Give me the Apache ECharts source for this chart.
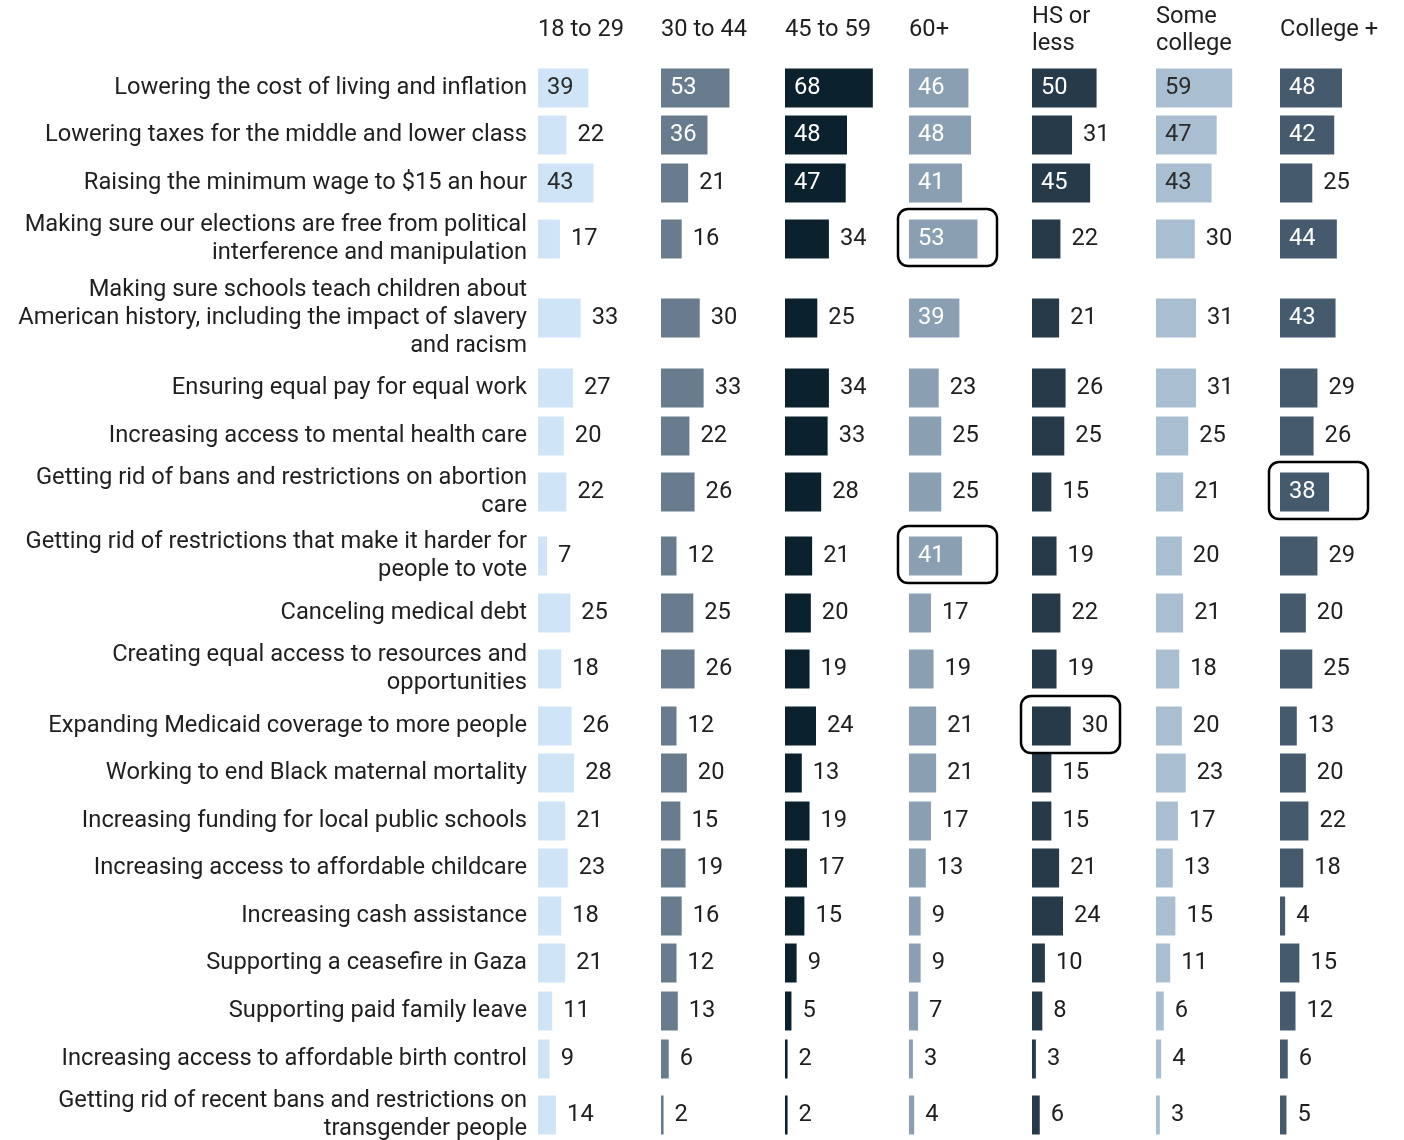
<!DOCTYPE html>
<html><head><meta charset="utf-8">
<script src="https://cdn.jsdelivr.net/npm/echarts@6/dist/echarts.min.js"></script>
<style>html,body{margin:0;padding:0;background:#fff}#c{width:1404px;height:1140px}</style>
</head><body><div id="c"></div>
<script>
const categories = [
  "Lowering the cost of living and inflation",
  "Lowering taxes for the middle and lower class",
  "Raising the minimum wage to $15 an hour",
  "Making sure our elections are free from political\ninterference and manipulation",
  "Making sure schools teach children about\nAmerican history, including the impact of slavery\nand racism",
  "Ensuring equal pay for equal work",
  "Increasing access to mental health care",
  "Getting rid of bans and restrictions on abortion\ncare",
  "Getting rid of restrictions that make it harder for\npeople to vote",
  "Canceling medical debt",
  "Creating equal access to resources and\nopportunities",
  "Expanding Medicaid coverage to more people",
  "Working to end Black maternal mortality",
  "Increasing funding for local public schools",
  "Increasing access to affordable childcare",
  "Increasing cash assistance",
  "Supporting a ceasefire in Gaza",
  "Supporting paid family leave",
  "Increasing access to affordable birth control",
  "Getting rid of recent bans and restrictions on\ntransgender people"
];
const groups = ["18 to 29", "30 to 44", "45 to 59", "60+", "HS or\nless", "Some\ncollege", "College +"];
const age18to29   = [39,22,43,17,33,27,20,22,7,25,18,26,28,21,23,18,21,11,9,14];
const age30to44   = [53,36,21,16,30,33,22,26,12,25,26,12,20,15,19,16,12,13,6,2];
const age45to59   = [68,48,47,34,25,34,33,28,21,20,19,24,13,19,17,15,9,5,2,2];
const age60plus   = [46,48,41,53,39,23,25,25,41,17,19,21,21,17,13,9,9,7,3,4];
const hsOrLess    = [50,31,45,22,21,26,25,15,19,22,19,30,15,15,21,24,10,8,3,6];
const someCollege = [59,47,43,30,31,31,25,21,20,21,18,20,23,17,13,15,11,6,4,3];
const collegePlus = [48,42,25,44,43,29,26,38,29,20,25,13,20,22,18,4,15,12,6,5];
const highlighted = [[3,3],[8,3],[11,4],[7,6]]; // [row, column]

const values = [age18to29, age30to44, age45to59, age60plus, hsOrLess, someCollege, collegePlus];
const colors = ['#cfe5f7','#687c8d','#0b212e','#8a9fb2','#273a4a','#a9bfd1','#455a6c'];
const lightCol = [true,false,false,false,false,true,false];

// layout
const colLeft = [538,661,785,909,1032,1156,1280];
const rowY = [88,135,183,239,318,388,436,492,556,613,669,726,773,821,868,916,963,1011,1059,1115];
const barH = 39, gridW = 124, axisMax = 96;
const FONT = 'Roboto';
const FS = 23.7;
const TXT = '#1f1f1f';

const grids=[], xAxes=[], yAxes=[], series=[], graphics=[];
let idx = 0;
for (let r=0;r<categories.length;r++){
  for (let c=0;c<values.length;c++){
    grids.push({left:colLeft[c], top:rowY[r]-barH/2, width:gridW, height:barH, containLabel:false, outerBoundsMode:'none'});
    xAxes.push({gridIndex:idx, type:'value', min:0, max:axisMax, show:false});
    yAxes.push({gridIndex:idx, type:'category', data:[categories[r]], show:c===0,
      axisLine:{show:false}, axisTick:{show:false},
      axisLabel:{show:c===0, fontFamily:FONT, fontSize:FS, color:TXT, margin:11, lineHeight:28, align:'right'}});
    const v = values[c][r];
    const inside = v >= 35;
    series.push({type:'bar', xAxisIndex:idx, yAxisIndex:idx, data:[v], barWidth:barH,
      itemStyle:{color:colors[c]}, silent:true, animation:false,
      label:{show:true, position: inside?'insideLeft':'right', distance: inside?9:11,
        fontFamily:FONT, fontSize:FS,
        color: inside ? (lightCol[c] ? '#2b2b2b' : '#ffffff') : TXT}});
    idx++;
  }
}
groups.forEach((g,c)=>{
  graphics.push({type:'text', left:colLeft[c], top: g.includes('\n') ? 4 : 17,
    style:{text:g, font:FS+'px '+FONT, fill:TXT, lineHeight:27}});
});
highlighted.forEach(([r,c])=>{
  graphics.push({type:'rect', shape:{x:colLeft[c]-11, y:rowY[r]-30, width:99, height:57, r:10},
    style:{fill:'none', stroke:'#000', lineWidth:2.5}, z:10});
});

const chart = echarts.init(document.getElementById('c'));
chart.setOption({animation:false, grid:grids, xAxis:xAxes, yAxis:yAxes, series:series, graphic:graphics});
</script></body></html>
